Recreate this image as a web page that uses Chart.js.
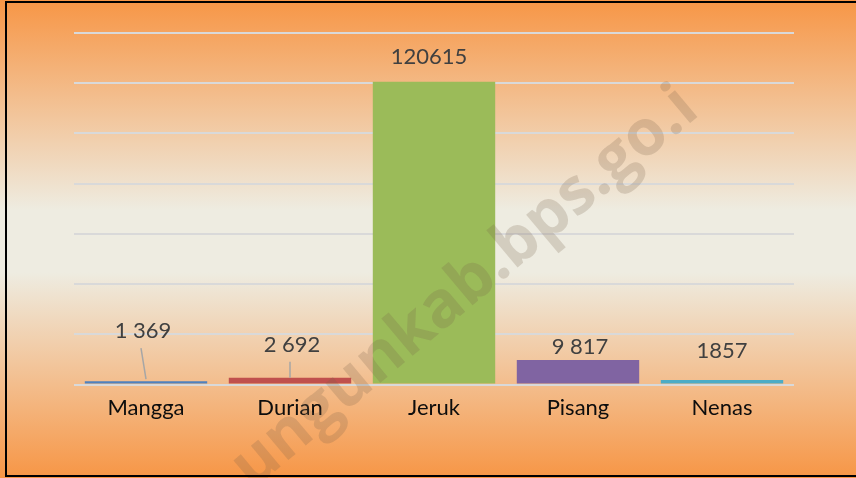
<!DOCTYPE html>
<html>
<head>
<meta charset="utf-8">
<script src="https://cdn.jsdelivr.net/npm/chart.js@4.4.0/dist/chart.umd.min.js"></script>
<style>
  html, body { margin: 0; padding: 0; background: #fff; }
  #wrap { width: 856px; height: 478px; position: relative; }
</style>
</head>
<body>
<div id="wrap"><canvas id="fruitChart"></canvas></div>
<script>
// Produksi buah - bar chart
const categories = ['Mangga', 'Durian', 'Jeruk', 'Pisang', 'Nenas'];
const values = [1369, 2692, 120615, 9817, 1857];
const valueLabels = ['1 369', '2 692', '120615', '9 817', '1857'];
const barColors = ['#4f81bd', '#c0504d', '#9bbb59', '#8064a2', '#4bacc6'];
const yMax = 140000;
const yStep = 20000;

// label offsets relative to the bar top: [dx, dy, leader line?]
const labelLayout = [
  { dx: -3, dy: -50, leader: [-5, -34, 0, -2] },
  { dx: 2, dy: -33, leader: [0, -15, 0, 0] },
  { dx: -5, dy: -25 },
  { dx: 2, dy: -13 },
  { dx: 0, dy: -29 },
];

const backgroundPlugin = {
  id: 'slideBackground',
  beforeDraw(chart) {
    const { ctx, width, height } = chart;
    ctx.save();
    const g = ctx.createLinearGradient(0, 0, 0, height);
    g.addColorStop(0, '#f79646');
    g.addColorStop(0.44, '#eeece1');
    g.addColorStop(0.57, '#eeece1');
    g.addColorStop(1, '#f79646');
    ctx.fillStyle = g;
    ctx.fillRect(0, 0, width, height);
    ctx.restore();
  },
  afterDraw(chart) {
    const { ctx, width, height } = chart;
    ctx.save();
    // watermark
    ctx.translate(465, 288);
    ctx.rotate(-40 * Math.PI / 180);
    ctx.font = 'bold 64px "Open Sans", sans-serif';
    ctx.fillStyle = 'rgba(120, 95, 75, 0.22)';
    ctx.textAlign = 'center';
    ctx.textBaseline = 'middle';
    ctx.fillText('ungunkab.bps.go.i', 0, 0);
    ctx.restore();

    ctx.save();
    ctx.strokeStyle = '#000';
    ctx.lineWidth = 2;
    ctx.strokeRect(6, 2, width + 10, height - 4);
    ctx.restore();
  },
};

const labelPlugin = {
  id: 'valueLabels',
  afterDatasetsDraw(chart) {
    const { ctx } = chart;
    const meta = chart.getDatasetMeta(0);
    ctx.save();
    meta.data.forEach((bar, i) => {
      const lay = labelLayout[i];
      const x = bar.x + lay.dx;
      const y = bar.y + lay.dy;
      if (lay.leader) {
        ctx.strokeStyle = '#a6a6a6';
        ctx.lineWidth = 1.5;
        ctx.beginPath();
        ctx.moveTo(bar.x + lay.leader[0], y + 17);
        ctx.lineTo(bar.x + lay.leader[2], bar.y + lay.leader[3]);
        ctx.stroke();
      }
      ctx.fillStyle = '#404040';
      ctx.font = '22px Lato, sans-serif';
      ctx.textAlign = 'center';
      ctx.textBaseline = 'middle';
      ctx.fillText(valueLabels[i], x, y);
    });
    ctx.restore();
  },
};

new Chart(document.getElementById('fruitChart'), {
  type: 'bar',
  data: {
    labels: categories,
    datasets: [
      {
        data: values,
        backgroundColor: barColors,
        borderWidth: 0,
        barPercentage: 0.85,
        categoryPercentage: 1,
      },
    ],
  },
  options: {
    responsive: true,
    maintainAspectRatio: false,
    animation: false,
    layout: {
      padding: { left: 74, right: 62, top: 33, bottom: 55 },
    },
    plugins: {
      legend: { display: false },
      tooltip: { enabled: false },
    },
    scales: {
      x: {
        grid: { display: false },
        border: { display: false },
        ticks: {
          color: '#0d0d0d',
          padding: 2,
          font: { family: 'Lato', size: 22 },
        },
      },
      y: {
        min: 0,
        max: yMax,
        ticks: { display: false, stepSize: yStep },
        border: { display: false },
        grid: { color: '#d9d9d9', lineWidth: 2, drawTicks: false },
      },
    },
  },
  plugins: [backgroundPlugin, labelPlugin],
});
</script>
</body>
</html>
